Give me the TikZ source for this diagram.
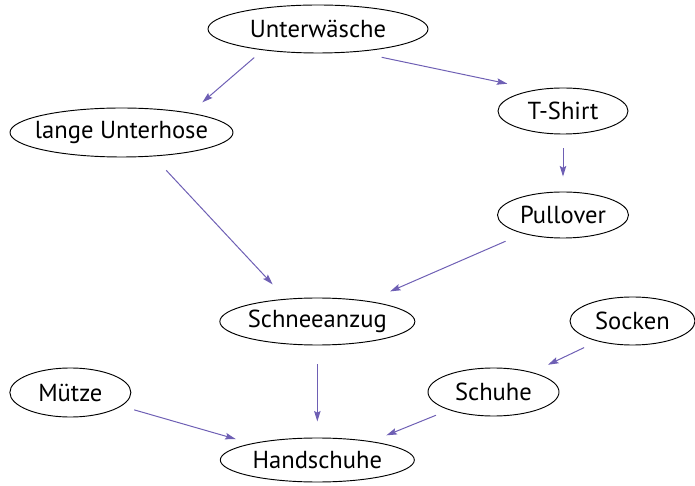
\documentclass[tikz,border=0pt]{standalone}
\usepackage{fontspec}
\setmainfont{PT Sans}
\usepackage{tikz}
\usetikzlibrary{arrows.meta,shapes.geometric}
\definecolor{cedge}{RGB}{110,95,180}

\begin{document}
\begin{tikzpicture}[line cap=butt,line join=round,
  every node/.append style={font=\fontsize{21}{25}\selectfont},
  item/.style={ellipse,draw=black,line width=0.8pt,inner xsep=-0.6cm,inner ysep=0pt},
  dep/.style={cedge,line width=0.85pt,
    -{Stealth[length=9pt,width=5.5pt,inset=1.5pt]}}]

\useasboundingbox (0,0) rectangle (20.85,14.55);

% =============================== nodes ================================
\node[item,minimum width=6.60cm,minimum height=1.44cm] (UW) at (9.54,13.68) {Unterwäsche};
\node[item,minimum width=6.69cm,minimum height=1.47cm] (LU) at (3.645,10.575) {lange Unterhose};
\node[item,minimum width=3.90cm,minimum height=1.38cm] (TS) at (16.89,11.22) {T-Shirt};
\node[item,minimum width=3.93cm,minimum height=1.38cm] (PO) at (16.89,8.10) {Pullover};
\node[item,minimum width=5.85cm,minimum height=1.41cm] (SA) at (9.52,4.905) {Schneeanzug};
\node[item,minimum width=3.75cm,minimum height=1.44cm] (SO) at (18.975,4.92) {Socken};
\node[item,minimum width=3.63cm,minimum height=1.47cm] (MU) at (2.11,2.775) {Mütze};
\node[item,minimum width=3.93cm,minimum height=1.44cm] (SH) at (14.805,2.79) {Schuhe};
\node[item,minimum width=5.82cm,minimum height=1.32cm] (HS) at (9.52,0.75) {Handschuhe};

% ============================ dependencies ============================
\draw[dep,shorten <=0.34cm,shorten >=0.48cm] (UW.201) -- (LU.16);
\draw[dep,shorten <=0.78cm,shorten >=0.87cm] (UW.329) -- (TS.142);
\draw[dep,shorten <=0.42cm,shorten >=0.45cm] (TS.south) -- (PO.north);
\draw[dep,shorten <=0.57cm,shorten >=0.59cm] (LU.323) -- (SA.144);
\draw[dep,shorten <=0.57cm,shorten >=0.72cm] (PO.205) -- (SA.22);
\draw[dep,shorten <=0.56cm,shorten >=0.48cm] (SA.south) -- (HS.north);
\draw[dep,shorten <=0.40cm,shorten >=0.48cm] (MU.345) -- (HS.166);
\draw[dep,shorten <=0.44cm,shorten >=0.52cm] (SO.210) -- (SH.27);
\draw[dep,shorten <=0.42cm,shorten >=0.48cm] (SH.202) -- (HS.19);

\end{tikzpicture}
\end{document}
